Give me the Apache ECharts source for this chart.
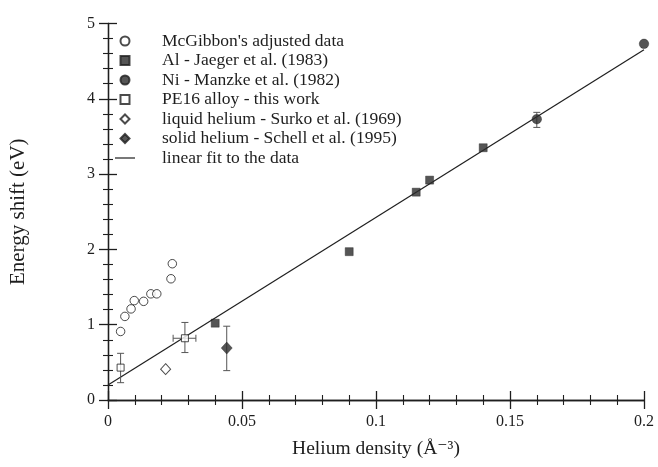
<!DOCTYPE html>
<html>
<head>
<meta charset="utf-8">
<script src="https://cdn.jsdelivr.net/npm/echarts@6/dist/echarts.min.js"></script>
<style>
  html, body { margin: 0; padding: 0; background: #fff; }
  #chart { width: 658px; height: 467px; }
</style>
</head>
<body>
<div id="chart"></div>
<script>
// Energy shift vs helium density
const seriesNames = [
  "McGibbon's adjusted data",
  'Al - Jaeger et al. (1983)',
  'Ni - Manzke et al. (1982)',
  'PE16 alloy - this work',
  'liquid helium - Surko et al. (1969)',
  'solid helium - Schell et al. (1995)',
  'linear fit to the data'
];

// [density, shift]
const mcgibbon = [
  [0.0047, 0.91], [0.0063, 1.11], [0.0086, 1.21], [0.0098, 1.32],
  [0.0133, 1.31], [0.0160, 1.41], [0.0182, 1.41], [0.0235, 1.61],
  [0.0240, 1.81]
];
const aluminium = [
  [0.040, 1.02], [0.090, 1.97], [0.115, 2.76], [0.120, 2.92], [0.140, 3.35]
];
const nickel = [[0.160, 3.73], [0.200, 4.73]];
const pe16 = [[0.0047, 0.43], [0.0287, 0.82]];
const liquidHe = [[0.0215, 0.41]];
const solidHe = [[0.0443, 0.69]];
const linearFit = [[0, 0.20], [0.2, 4.65]];

// error bars: [x, y, yLow, yHigh, xLow, xHigh]  (null = no bar)
const errorBars = [
  [0.0047, 0.43, 0.23, 0.62, null, null],
  [0.0287, 0.82, 0.63, 1.03, 0.0243, 0.0328],
  [0.0443, 0.69, 0.39, 0.98, null, null],
  [0.160, 3.73, 3.62, 3.82, null, null]
];

const xTicks = [0, 0.05, 0.1, 0.15, 0.2];
const yTicks = [0, 1, 2, 3, 4, 5];

const ink = '#1e1e1e';
const serif = '"Liberation Serif", "DejaVu Serif", serif';

// legend glyphs with fixed aspect ratio
const squareIcon = 'path://M0,0H10V10H0Z';
const diamondIcon = 'path://M5,0L10,5L5,10L0,5Z';
const dashIcon = 'path://M0,0H20V1.2H0Z';

const chart = echarts.init(document.getElementById('chart'), null, { renderer: 'canvas' });

const axisCommon = {
  axisLine: { show: true, lineStyle: { color: ink, width: 1.3 } },
  axisTick: { show: true, inside: false, length: 9, lineStyle: { color: ink, width: 1.3 } },
  minorTick: { show: true, splitNumber: 5, length: 5, lineStyle: { color: ink, width: 1.1 } },
  splitLine: { show: false },
  minorSplitLine: { show: false }
};

const openStyle = { color: '#fff', borderColor: ink, borderWidth: 1 };
const fillStyle = { color: '#2b2b2b', borderColor: ink, borderWidth: 0.5 };

chart.setOption({
  backgroundColor: '#fff',
  animation: false,
  grid: { left: 108, right: 14, top: 23.5, bottom: 67 },
  xAxis: [
    Object.assign({
      type: 'value', position: 'bottom', min: xTicks[0], max: xTicks[xTicks.length - 1], interval: 0.05,
      name: 'Helium density (Å\u207B\u00B3)', nameLocation: 'middle', nameGap: 39,
      nameTextStyle: { fontFamily: serif, fontSize: 19.5, color: ink },
      axisLabel: {
        fontFamily: serif, fontSize: 16, color: ink, margin: 14,
        formatter: v => (xTicks.indexOf(+v.toFixed(2)) >= 0 ? String(+v.toFixed(2)) : '')
      }
    }, axisCommon),
    Object.assign({
      type: 'value', position: 'top', min: 0, max: 0.2, interval: 0.05,
      axisLabel: { show: false }
    }, axisCommon)
  ],
  yAxis: [
    Object.assign({
      type: 'value', position: 'left', min: yTicks[0], max: yTicks[yTicks.length - 1], interval: 1,
      name: 'Energy shift (eV)', nameLocation: 'middle', nameGap: 79, nameRotate: 90,
      nameTextStyle: { fontFamily: serif, fontSize: 21, color: ink },
      axisLabel: { fontFamily: serif, fontSize: 16, color: ink, margin: 13 }
    }, axisCommon),
    Object.assign({
      type: 'value', position: 'right', min: 0, max: 5, interval: 1,
      axisLabel: { show: false }
    }, axisCommon)
  ],
  legend: {
    orient: 'vertical', left: 110, top: 27,
    itemWidth: 20, itemHeight: 9, itemGap: 1.5,
    symbolKeepAspect: true,
    textStyle: { fontFamily: serif, fontSize: 17.5, color: ink, lineHeight: 17.5, padding: [0, 0, 0, 22] },
    data: [
      { name: seriesNames[0], icon: 'circle' },
      { name: seriesNames[1], icon: squareIcon },
      { name: seriesNames[2], icon: 'circle' },
      { name: seriesNames[3], icon: squareIcon },
      { name: seriesNames[4], icon: diamondIcon },
      { name: seriesNames[5], icon: diamondIcon },
      { name: seriesNames[6], icon: dashIcon }
    ]
  },
  series: [
    {
      name: seriesNames[6], type: 'line', data: linearFit, symbol: 'none',
      lineStyle: { color: ink, width: 1.2 }, itemStyle: { color: ink }, z: 1
    },
    {
      name: 'errors', type: 'custom', data: errorBars, z: 2,
      renderItem: function (params, api) {
        const x = api.value(0), y = api.value(1);
        const cap = 3.5;
        const children = [];
        const yl = api.value(2), yh = api.value(3);
        if (yl !== null && !isNaN(yl)) {
          const p1 = api.coord([x, yl]), p2 = api.coord([x, yh]);
          children.push({ type: 'line', shape: { x1: p1[0], y1: p1[1], x2: p2[0], y2: p2[1] } });
          children.push({ type: 'line', shape: { x1: p1[0] - cap, y1: p1[1], x2: p1[0] + cap, y2: p1[1] } });
          children.push({ type: 'line', shape: { x1: p2[0] - cap, y1: p2[1], x2: p2[0] + cap, y2: p2[1] } });
        }
        const xl = api.value(4), xh = api.value(5);
        if (xl !== null && !isNaN(xl)) {
          const q1 = api.coord([xl, y]), q2 = api.coord([xh, y]);
          children.push({ type: 'line', shape: { x1: q1[0], y1: q1[1], x2: q2[0], y2: q2[1] } });
          children.push({ type: 'line', shape: { x1: q1[0], y1: q1[1] - cap, x2: q1[0], y2: q1[1] + cap } });
          children.push({ type: 'line', shape: { x1: q2[0], y1: q2[1] - cap, x2: q2[0], y2: q2[1] + cap } });
        }
        return {
          type: 'group',
          children: children.map(c => Object.assign(c, { style: { stroke: '#555', lineWidth: 1 } }))
        };
      }
    },
    {
      name: seriesNames[0], type: 'scatter', data: mcgibbon, symbol: 'circle', symbolSize: 8.5,
      itemStyle: openStyle, z: 3
    },
    {
      name: seriesNames[1], type: 'scatter', data: aluminium, symbol: 'rect', symbolSize: 8,
      itemStyle: fillStyle, z: 3
    },
    {
      name: seriesNames[2], type: 'scatter', data: nickel, symbol: 'circle', symbolSize: 9.5,
      itemStyle: fillStyle, z: 3
    },
    {
      name: seriesNames[3], type: 'scatter', data: pe16, symbol: 'rect', symbolSize: 7,
      itemStyle: openStyle, z: 3
    },
    {
      name: seriesNames[4], type: 'scatter', data: liquidHe, symbol: 'diamond', symbolSize: [10, 11],
      itemStyle: openStyle, z: 3
    },
    {
      name: seriesNames[5], type: 'scatter', data: solidHe, symbol: 'diamond', symbolSize: [11, 12],
      itemStyle: fillStyle, z: 3
    }
  ]
});
</script>
</body>
</html>
